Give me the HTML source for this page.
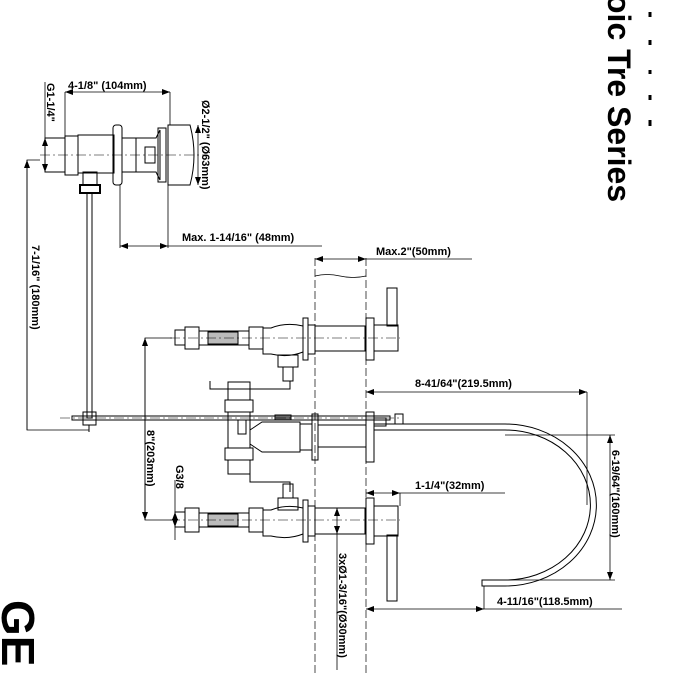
<!DOCTYPE html>
<html><head><meta charset="utf-8"><style>
html,body{margin:0;padding:0;background:#fff;width:700px;height:675px;overflow:hidden}
svg{display:block}
text{font-family:"Liberation Sans",sans-serif;font-weight:bold;fill:#000}
</style></head><body>
<svg width="700" height="675" viewBox="0 0 700 675" xmlns="http://www.w3.org/2000/svg">
<defs>
<marker id="a" markerWidth="8" markerHeight="6" refX="8" refY="3" orient="auto-start-reverse" markerUnits="userSpaceOnUse"><path d="M0,0 L8,3 L0,6 z" fill="#000"/></marker>
</defs>
<g stroke="#000" stroke-width="1" fill="none">
<!-- top fixture -->
<rect x="45" y="138" width="20" height="34"/>
<rect x="65" y="136" width="13" height="39"/>
<rect x="78" y="135" width="36" height="38"/>
<rect x="113" y="125" width="9" height="60" rx="3"/>
<rect x="122" y="138" width="14" height="34"/>
<path d="M136,138 h20 l4,-8 v50 l-4,-8 h-20 z"/>
<rect x="145" y="147" width="10" height="16"/>
<rect x="158" y="128" width="8" height="54"/>
<path d="M168,125 h22 q8,30 0,60 h-22 z"/>
<rect x="83" y="172" width="14" height="13"/>
<rect x="80" y="185" width="20" height="8" stroke-width="2"/>
<rect x="87" y="193" width="5" height="225"/>
<rect x="83" y="412" width="13" height="13"/>
<line x1="89" y1="425" x2="89" y2="432"/>
<!-- wall -->
<path d="M315,258 V675 M366,258 V675" stroke-dasharray="8,3" stroke-width="0.7"/>
<path d="M315,276 q12,-3 25,0 t26,0" stroke-width="0.7"/>
<!-- top valve -->
<rect x="175" y="330" width="10" height="15"/>
<rect x="185" y="327" width="14" height="22"/>
<rect x="199" y="331" width="50" height="14"/>
<rect x="208" y="332" width="30" height="12" fill="#bbb"/>
<rect x="249" y="327" width="14" height="22"/>
<path d="M263,328 h8 q15,-6 32,-2 v26 q-15,6 -32,2 h-8 z"/>
<rect x="303" y="318" width="5" height="42"/>
<rect x="308" y="325" width="7" height="29"/>
<rect x="315" y="326" width="50" height="25"/>
<rect x="366" y="318" width="8" height="42"/>
<rect x="374" y="325" width="24" height="26"/>
<rect x="387" y="288" width="10" height="38"/>
<rect x="278" y="355" width="20" height="12"/>
<rect x="283" y="367" width="10" height="14"/>
<path d="M290,381 v8 h-80 v-8"/>
<!-- center -->
<rect x="72" y="416" width="318" height="4"/>
<rect x="228" y="382" width="22" height="18"/>
<rect x="225" y="400" width="28" height="12"/>
<rect x="228" y="412" width="22" height="36"/>
<rect x="225" y="448" width="28" height="12"/>
<rect x="228" y="460" width="22" height="14"/>
<rect x="238" y="420" width="8" height="14"/>
<path d="M250,430 l12,-8 h38 v30 h-38 l-12,-8"/>
<rect x="300" y="424" width="12" height="26"/>
<rect x="312" y="414" width="6" height="46"/>
<rect x="318" y="425" width="48" height="22"/>
<rect x="366" y="412" width="8" height="50"/>
<rect x="374" y="418" width="12" height="8"/>
<rect x="395" y="414" width="8" height="10"/>
<rect x="275" y="415" width="16" height="5" fill="#666"/>
<path d="M250,474 v8 h40 v10"/>
<!-- spout -->
<path d="M374,430 H505 A82,72 0 0 1 505,580 H482 V586 H505 A88,78 0 0 0 505,424 H374"/>
<!-- bottom valve -->
<rect x="175" y="512" width="10" height="15"/>
<rect x="185" y="508" width="14" height="24"/>
<rect x="199" y="513" width="50" height="14"/>
<rect x="208" y="514" width="30" height="12" fill="#bbb"/>
<rect x="249" y="508" width="14" height="24"/>
<path d="M263,510 h8 q15,-6 32,-2 v26 q-15,6 -32,2 h-8 z"/>
<rect x="278" y="498" width="20" height="12"/>
<rect x="283" y="484" width="10" height="14"/>
<rect x="303" y="500" width="5" height="42"/>
<rect x="308" y="506" width="7" height="30"/>
<rect x="315" y="508" width="50" height="26"/>
<rect x="366" y="498" width="8" height="46"/>
<rect x="374" y="506" width="24" height="30"/>
<rect x="387" y="535" width="10" height="66"/>
</g>
<!-- centerlines -->
<g stroke="#000" stroke-width="0.6" stroke-dasharray="10,3,2,3" fill="none">
<line x1="40" y1="155" x2="205" y2="155"/>
<line x1="170" y1="338" x2="400" y2="338"/>
<line x1="170" y1="520" x2="400" y2="520"/>
<line x1="60" y1="418" x2="400" y2="418"/>
</g>
<!-- dimensions -->
<g stroke="#000" stroke-width="0.8" fill="none">
<line x1="65" y1="92" x2="170" y2="92" marker-start="url(#a)" marker-end="url(#a)"/>
<path d="M65,92 V136 M170,92 V125"/>
<line x1="45" y1="82" x2="45" y2="172"/>
<line x1="45" y1="138" x2="45" y2="172" marker-start="url(#a)" marker-end="url(#a)"/>
<line x1="198" y1="125" x2="198" y2="185" marker-start="url(#a)" marker-end="url(#a)"/>
<path d="M120,185 V248 M168,185 V248"/>
<line x1="120" y1="246" x2="168" y2="246" marker-start="url(#a)" marker-end="url(#a)"/>
<line x1="168" y1="246" x2="322" y2="246"/>
<path d="M40,160 H27 V430 H89"/>
<line x1="27" y1="430" x2="27" y2="160" marker-end="url(#a)"/>
<line x1="315" y1="259" x2="366" y2="259" marker-start="url(#a)" marker-end="url(#a)"/>
<line x1="366" y1="259" x2="472" y2="259"/>
<line x1="366" y1="392" x2="587" y2="392" marker-start="url(#a)" marker-end="url(#a)"/>
<line x1="587" y1="392" x2="587" y2="505"/>
<line x1="505" y1="435" x2="615" y2="435"/>
<line x1="610" y1="435" x2="610" y2="580" marker-start="url(#a)" marker-end="url(#a)"/>
<line x1="505" y1="580" x2="615" y2="580"/>
<line x1="366" y1="493" x2="400" y2="493" marker-start="url(#a)" marker-end="url(#a)"/>
<path d="M400,493 H505 M400,493 V506"/>
<line x1="366" y1="609" x2="484" y2="609" marker-start="url(#a)" marker-end="url(#a)"/>
<path d="M484,586 V609 H622"/>
<path d="M172,338 H145 V520 H172"/>
<line x1="145" y1="338" x2="145" y2="520" marker-start="url(#a)" marker-end="url(#a)"/>
<line x1="175" y1="480" x2="175" y2="540"/>
<line x1="175" y1="512" x2="175" y2="527" marker-start="url(#a)" marker-end="url(#a)"/>
<line x1="337" y1="508" x2="337" y2="534" marker-start="url(#a)" marker-end="url(#a)"/>
<line x1="337" y1="534" x2="337" y2="670"/>
</g>
<!-- labels -->
<g font-size="11">
<text x="68" y="89">4-1/8" (104mm)</text>
<text x="182" y="241">Max. 1-14/16" (48mm)</text>
<text x="376" y="255">Max.2"(50mm)</text>
<text x="415" y="387">8-41/64"(219.5mm)</text>
<text x="415" y="489">1-1/4"(32mm)</text>
<text x="497" y="605">4-11/16"(118.5mm)</text>
<text transform="translate(47,83) rotate(90)">G1-1/4"</text>
<text transform="translate(202,100) rotate(90)">Ø2-1/2" (Ø63mm)</text>
<text transform="translate(32,245) rotate(90)">7-1/16" (180mm)</text>
<text transform="translate(147,430) rotate(90)">8"(203mm)</text>
<text transform="translate(176,465) rotate(90)">G3/8</text>
<text transform="translate(339,553) rotate(90)">3xØ1-3/16"(Ø30mm)</text>
<text transform="translate(612,450) rotate(90)">6-19/64"(160mm)</text>
</g>
<text transform="translate(608,-6) rotate(90)" font-size="32">oic Tre Series</text>
<g stroke="#000" stroke-width="3">
<path d="M650,12 v5 M650,40 v5 M650,70 v4 M650,95 v5 M650,120 v6"/>
</g>
<text transform="translate(2,600) rotate(90)" font-size="46">GE</text>
</svg>
</body></html>
